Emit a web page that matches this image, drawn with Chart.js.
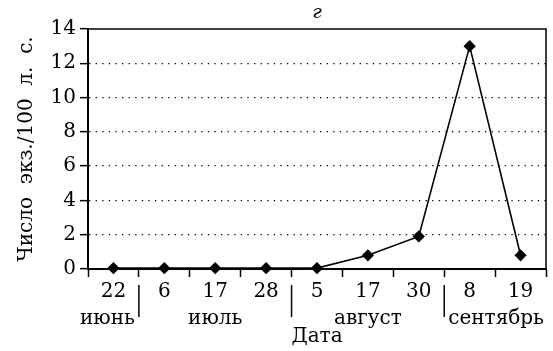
<!DOCTYPE html>
<html lang="ru">
<head>
  <meta charset="UTF-8" />
  <title>Число экз./100 л. с.</title>
  <script src="https://cdn.jsdelivr.net/npm/chart.js"></script>
  <style>
    body { margin: 0; background: #fff; }
    .chart-container { position: relative; width: 553px; height: 351px; }
  </style>
</head>
<body>
  <div class="chart-container">
    <canvas id="density-chart"></canvas>
  </div>
  <script>
    // data
    const days = ['22', '6', '17', '28', '5', '17', '30', '8', '19'];
    const months = ['июнь', 'июль', 'июль', 'июль', 'август', 'август', 'август', 'сентябрь', 'сентябрь'];
    const counts = [0.05, 0.05, 0.05, 0.05, 0.05, 0.8, 1.9, 13, 0.8];
    const yTicks = [0, 2, 4, 6, 8, 10, 12, 14];

    const serif = '"DejaVu Serif", "Liberation Serif", serif';

    // box round the plot, month labels under the dates and the separators
    const extras = {
      id: 'extras',
      afterDraw(chart) {
        const { ctx, chartArea } = chart;
        const x = chart.scales.x;
        ctx.save();
        ctx.strokeStyle = '#000';
        ctx.lineWidth = 1.5;
        ctx.beginPath();
        ctx.moveTo(chartArea.left, chartArea.top);
        ctx.lineTo(chartArea.right, chartArea.top);
        ctx.lineTo(chartArea.right, chartArea.bottom);
        ctx.stroke();

        // panel letter
        ctx.fillStyle = '#000';
        ctx.font = 'italic 19px ' + serif;
        ctx.textAlign = 'center';
        ctx.textBaseline = 'middle';
        ctx.fillText('г', (chartArea.left + chartArea.right) / 2, chartArea.top - 16);

        // group categories by month
        const groups = [];
        months.forEach((m, i) => {
          const last = groups[groups.length - 1];
          if (last && last.name === m) last.end = i;
          else groups.push({ name: m, start: i, end: i });
        });
        const edge = i => (x.getPixelForValue(i - 1) + x.getPixelForValue(i)) / 2;
        ctx.font = '20px ' + serif;
        ctx.lineWidth = 1.5;
        groups.forEach((g, k) => {
          let cx = (x.getPixelForValue(g.start) + x.getPixelForValue(g.end)) / 2;
          const half = ctx.measureText(g.name).width / 2;
          // keep wide labels off the separator lines
          if (k > 0) cx = Math.max(cx, edge(g.start) + 4 + half);
          if (k < groups.length - 1) cx = Math.min(cx, edge(g.end + 1) - 4 - half);
          ctx.fillText(g.name, cx, chartArea.bottom + 50);
          if (k > 0) {
            const sx = edge(g.start);
            ctx.beginPath();
            ctx.moveTo(sx, chartArea.bottom + 16);
            ctx.lineTo(sx, chartArea.bottom + 48);
            ctx.stroke();
          }
        });
        ctx.restore();
      }
    };

    new Chart(document.getElementById('density-chart'), {
      type: 'line',
      data: {
        labels: days,
        datasets: [{
          data: counts,
          borderColor: '#000',
          backgroundColor: '#000',
          borderWidth: 1.6,
          pointStyle: 'rectRot',
          pointRadius: 5,
          pointHoverRadius: 5,
          tension: 0,
          clip: false
        }]
      },
      options: {
        responsive: true,
        maintainAspectRatio: false,
        animation: false,
        layout: { padding: { top: 29, right: 7, left: 0, bottom: 0 } },
        plugins: { legend: { display: false }, tooltip: { enabled: false }, title: { display: false } },
        scales: {
          x: {
            offset: true,
            grid: { offset: true, drawOnChartArea: false, tickLength: 8, tickColor: '#000', tickWidth: 1.5 },
            border: { color: '#000', width: 2 },
            ticks: { color: '#000', font: { family: serif, size: 20 }, padding: 3, maxRotation: 0, autoSkip: false },
            title: { display: true, text: 'Дата', color: '#000', font: { family: serif, size: 20 }, padding: { top: 0, bottom: 2 } },
            afterFit(scale) { scale.height = 82; }
          },
          y: {
            min: 0,
            max: 14,
            afterBuildTicks(scale) { scale.ticks = yTicks.map(v => ({ value: v })); },
            grid: {
              color: ctx => (ctx.tick && ctx.tick.value > 0 && ctx.tick.value < 14) ? '#000' : 'rgba(0,0,0,0)',
              lineWidth: 1.3,
              tickColor: '#000',
              tickWidth: 1.5,
              tickLength: 8
            },
            border: { color: '#000', width: 2, dash: [1.3, 5.3] },
            ticks: { color: '#000', font: { family: serif, size: 20 }, padding: 4 },
            title: { display: true, text: 'Число  экз./100  л.  с.', color: '#000', font: { family: serif, size: 20 }, padding: { top: 15, bottom: 0 } },
            afterFit(scale) { scale.width = 88; }
          }
        }
      },
      plugins: [extras]
    });
  </script>
</body>
</html>
